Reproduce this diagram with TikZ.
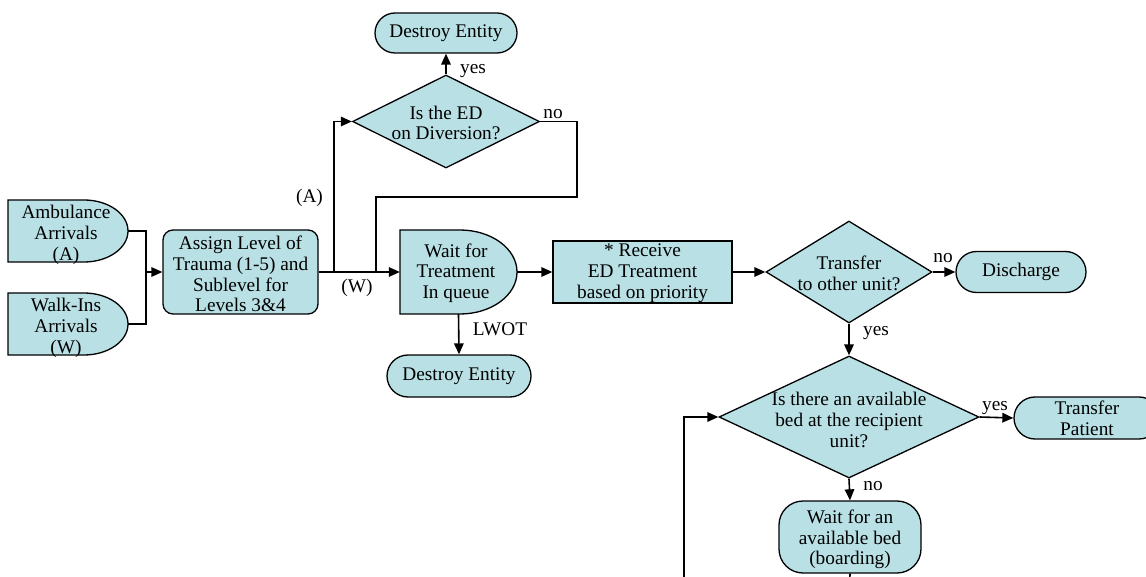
\documentclass[tikz,border=0pt]{standalone}
\usepackage{fontspec}
\setmainfont{Liberation Serif}
\usetikzlibrary{shapes.geometric,shapes.misc,arrows.meta}
\definecolor{boxfill}{RGB}{185,224,228}
\newcommand\dshape[5]{% left top right bottom rx
  \draw[shapeline] (#1,#2) -- ({#3-#5},#2)
    .. controls ({#3-#5+0.5523*#5},#2) and (#3,{(#2+#4)/2-0.5523*(#4-#2)/2}) .. (#3,{(#2+#4)/2})
    .. controls (#3,{(#2+#4)/2+0.5523*(#4-#2)/2}) and ({#3-#5+0.5523*#5},#4) .. ({#3-#5},#4)
    -- (#1,#4) -- cycle;}
\tikzset{
  shapeline/.style={draw=black, fill=boxfill, line width=1.3pt},
  txt/.style={font=\fontsize{19.3}{20.7}\selectfont, align=center, inner sep=0pt},
  lbl/.style={font=\fontsize{19.3}{20.7}\selectfont, inner sep=0pt, anchor=base},
  term/.style={rounded rectangle, shapeline, txt},
  procbox/.style={rectangle, shapeline, txt},
  dec/.style={diamond, shapeline, inner sep=0pt},
  hidden/.style={txt, draw=none, fill=none},
  conn/.style={line width=1.6pt},
  arr/.style={conn, -{Triangle[length=11pt,width=9.5pt]}},
}
\begin{document}
\begin{tikzpicture}[x=1pt,y=-1pt]
\clip (0,0) rectangle (1146,577);
\useasboundingbox (0,0) rectangle (1146,577);

% delay shapes
\dshape{8}{200}{128}{262}{44}
\dshape{8}{293}{128}{355}{44}
\dshape{400}{230}{517}{314}{57}
\node[hidden, minimum width=120pt, minimum height=62pt] (amb) at (68,231) {};
\node[hidden] (ambt) at (66,235) {Ambulance\\Arrivals\\(A)};
\node[hidden, minimum width=120pt, minimum height=62pt] (walk) at (68,324) {};
\node[hidden] (walkt) at (66,328) {Walk-Ins\\Arrivals\\(W)};
\node[hidden, minimum width=117pt, minimum height=84pt] (wait) at (458.5,272) {};
\node[hidden] (waitt) at (456,273) {Wait for\\Treatment\\In queue};

% process boxes
\node[procbox, rounded corners=10pt, minimum width=155pt, minimum height=84pt] (assign) at (240.5,272) {};
\node[hidden] (assignt) at (240.5,274) {Assign Level of\\Trauma (1-5) and\\Sublevel for\\Levels 3\&4};
\node[procbox, minimum width=179pt, minimum height=62pt] (recv) at (642.5,272) {};
\node[hidden] (recvt) at (642.5,273) {* Receive\\ED Treatment\\based on priority};
\node[procbox, rounded corners=24pt, minimum width=142pt, minimum height=72pt] (wbed) at (850,537) {};
\node[hidden] (wbedt) at (850,539.5) {Wait for an\\available bed\\(boarding)};

% terminators
\node[term, minimum width=142pt, minimum height=40pt] (dtop) at (446,33) {Destroy Entity};
\node[term, minimum width=144pt, minimum height=42pt] (dbot) at (459,376) {Destroy Entity};
\node[term, minimum width=130pt, minimum height=41pt] (disch) at (1021,272) {Discharge};
\node[term, minimum width=146pt, minimum height=42pt] (tp) at (1087,418) {Transfer\\Patient};

% decisions
\node[dec, minimum width=187pt, minimum height=93pt] (div) at (446,121.5) {};
\node[hidden] (divt) at (446,123) {Is the ED\\on Diversion?};
\node[dec, minimum width=166pt, minimum height=102pt] (xfer) at (849,272) {};
\node[hidden] (xfert) at (849,273) {Transfer\\to other unit?};
\node[dec, minimum width=260pt, minimum height=122pt] (bed) at (849,417) {};
\node[hidden] (bedt) at (849,420) {Is there an available\\bed at the recipient\\unit?};

% junction coordinates
\coordinate (j1) at (146,272);
\coordinate (jA) at (334,272);
\coordinate (jW) at (376,272);
\coordinate (c1) at (577,197);
\coordinate (bot1) at (849.5,590);
\coordinate (bot2) at (684,590);

% connectors
\draw[conn] (amb.east) -| (j1);
\draw[conn] (walk.east) -| (j1);
\draw[arr] (j1) -- (assign.west);
\draw[arr] (assign.east) -- (wait.west);
\draw[arr] (jA) |- (div.west);
\draw[conn] (div.east) -| (c1) -| (jW);
\draw[arr] (div.north) -- (dtop.south);
\draw[arr] (wait.south) -- (dbot.north);
\draw[arr] (wait.east) -- (recv.west);
\draw[arr] (recv.east) -- (xfer.west);
\draw[arr] (xfer.east) -- (disch.west);
\draw[arr] (xfer.south) -- (bed.north);
\draw[arr] (bed.east) -- (tp.west);
\draw[arr] (bed.south) -- (wbed.north);
\draw[conn] (wbed.south) -- (bot1);
\draw[arr] (bot2) |- (bed.west);

% labels
\node[lbl] (lA) at (309.5,203) {(A)};
\node[lbl] (lW) at (357,293) {(W)};
\node[lbl] (ly1) at (473,74) {yes};
\node[lbl] (ln1) at (553,119) {no};
\node[lbl] (llw) at (500,335) {LWOT};
\node[lbl] (ln2) at (943,263) {no};
\node[lbl] (ly2) at (876,336) {yes};
\node[lbl] (ly3) at (995,410) {yes};
\node[lbl] (ln3) at (873,490) {no};
\end{tikzpicture}
\end{document}
